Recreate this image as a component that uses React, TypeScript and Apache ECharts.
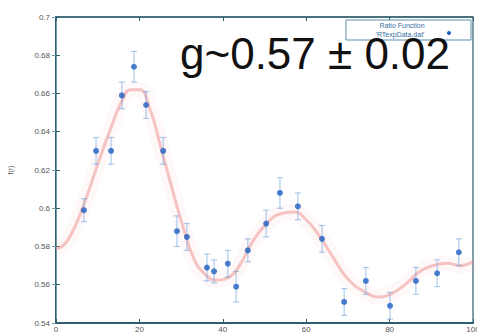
import React, { useEffect, useRef } from "react";
import * as echarts from "echarts";

const xValues = [6.7, 9.6, 13.2, 15.8, 18.7, 21.6, 25.7, 29.0, 31.4, 36.2, 37.9, 41.2, 43.2, 46.0, 50.4, 53.7, 58.0, 63.8, 69.1, 74.3, 80.1, 86.3, 91.4, 96.6];
const yValues = [0.599, 0.630, 0.630, 0.659, 0.674, 0.654, 0.630, 0.588, 0.585, 0.569, 0.567, 0.571, 0.559, 0.578, 0.592, 0.608, 0.601, 0.584, 0.551, 0.562, 0.549, 0.562, 0.566, 0.577];
const yErrors = [0.006, 0.007, 0.007, 0.007, 0.008, 0.007, 0.007, 0.008, 0.007, 0.007, 0.006, 0.007, 0.008, 0.006, 0.007, 0.008, 0.007, 0.007, 0.007, 0.007, 0.007, 0.007, 0.007, 0.007];

const fitX = [0, 2, 4, 6, 8, 10, 13, 16, 18, 20, 22.5, 25, 28, 30.5, 33, 35.5, 38.5, 41.5, 44, 47, 50.5, 53.7, 57, 60, 63.3, 66.4, 70, 74.5, 77.7, 80.8, 84.2, 87.3, 90.4, 93.8, 97, 100];
const fitY = [0.579, 0.581, 0.588, 0.598, 0.61, 0.623, 0.641, 0.657, 0.662, 0.662, 0.652, 0.633, 0.609, 0.59, 0.574, 0.566, 0.5625, 0.564, 0.57, 0.582, 0.592, 0.597, 0.598, 0.594, 0.585, 0.5745, 0.563, 0.5557, 0.5536, 0.5557, 0.561, 0.567, 0.57, 0.5713, 0.57, 0.572];

const xTicks = [0, 20, 40, 60, 80, 100];
const yTicks = [0.54, 0.56, 0.58, 0.6, 0.62, 0.64, 0.66, 0.68, 0.7];

const annotation = "g~0.57 ± 0.02";
const legendLabels = ["Ratio Function", "'RTexpData.dat'"];
const xName = "Distance";
const yName = "f(r)";

export default function App() {
  const ref = useRef<HTMLDivElement>(null);
  useEffect(() => {
    if (!ref.current) return;
    const chart = echarts.init(ref.current, null, { renderer: "svg" });
    const points = xValues.map((x, i) => [x, yValues[i]]);
    const errData = xValues.map((x, i) => [x, yValues[i] - yErrors[i], yValues[i] + yErrors[i]]);
    const fitData = fitX.map((x, i) => [x, fitY[i]]);
    const frame = "#2f5f6e";
    const font = "Liberation Sans, Arial, sans-serif";
    const labelStyle = { color: "#555", fontSize: 8, fontFamily: font };
    chart.setOption({
      animation: false,
      backgroundColor: "#fff",
      grid: {
        left: 56, right: 4, top: 17, bottom: 10, show: true,
        borderColor: frame, borderWidth: 1.2, containLabel: false, outerBoundsMode: "none",
      },
      xAxis: [
        {
          type: "value", min: xTicks[0], max: xTicks[xTicks.length - 1], interval: 20,
          name: xName, nameLocation: "middle", nameGap: 6,
          nameTextStyle: { color: "#3a6ea5", fontSize: 7, fontFamily: font },
          axisLine: { show: true, lineStyle: { color: frame, width: 2 } },
          axisTick: { show: true, inside: true, length: 4, lineStyle: { color: frame } },
          axisLabel: { ...labelStyle, margin: 2 },
          splitLine: { show: false },
        },
        {
          type: "value", position: "top", min: 0, max: 100, interval: 20,
          axisLine: { show: true, lineStyle: { color: frame, width: 1.5 } },
          axisTick: { show: true, inside: true, length: 4, lineStyle: { color: frame } },
          axisLabel: { show: false }, splitLine: { show: false },
        },
      ],
      yAxis: [
        {
          type: "value", min: yTicks[0], max: yTicks[yTicks.length - 1], interval: 0.02,
          name: yName, nameLocation: "middle", nameGap: 42, nameRotate: 90,
          nameTextStyle: { color: "#555", fontSize: 7, fontFamily: font },
          axisLine: { show: true, lineStyle: { color: frame, width: 2 } },
          axisTick: { show: true, inside: true, length: 4, lineStyle: { color: frame } },
          axisLabel: { ...labelStyle, margin: 6 },
          splitLine: { show: false },
        },
        {
          type: "value", position: "right", min: 0.54, max: 0.7, interval: 0.02,
          axisLine: { show: true, lineStyle: { color: "#6f9aa6", width: 1 } },
          axisTick: { show: true, inside: true, length: 4, lineStyle: { color: "#6f9aa6" } },
          axisLabel: { show: false }, splitLine: { show: false },
        },
      ],
      series: [
        {
          type: "line", data: fitData, smooth: true, showSymbol: false, symbol: "none",
          lineStyle: { color: "rgba(240,150,150,0.07)", width: 16 }, z: 1,
        },
        {
          type: "line", data: fitData, smooth: true, showSymbol: false, symbol: "none",
          lineStyle: { color: "rgba(240,140,140,0.5)", width: 3 }, z: 2,
        },
        {
          type: "custom", data: errData, z: 3,
          renderItem: (params: any, api: any) => {
            const x = api.value(0);
            const lo = api.coord([x, api.value(1)]);
            const hi = api.coord([x, api.value(2)]);
            const w = 3;
            const style = { stroke: "rgba(110,160,220,0.55)", lineWidth: 1.2 };
            return {
              type: "group",
              children: [
                { type: "line", shape: { x1: lo[0], y1: lo[1], x2: hi[0], y2: hi[1] }, style },
                { type: "line", shape: { x1: lo[0] - w, y1: lo[1], x2: lo[0] + w, y2: lo[1] }, style },
                { type: "line", shape: { x1: hi[0] - w, y1: hi[1], x2: hi[0] + w, y2: hi[1] }, style },
              ],
            };
          },
        },
        {
          type: "scatter", data: points, symbol: "circle", symbolSize: 6, z: 4,
          itemStyle: { color: "#1f5fbf" },
        },
      ],
      graphic: [
        {
          type: "rect", z: 10, shape: { x: 346, y: 20, width: 125, height: 20 },
          style: { fill: "rgba(255,255,255,0.9)", stroke: "#5b8fa8", lineWidth: 1 },
        },
        {
          type: "text", z: 11, x: 402, y: 25,
          style: { text: legendLabels[0], fontSize: 7, fill: "#3a6ea5", align: "center", verticalAlign: "middle", fontFamily: font },
        },
        {
          type: "text", z: 11, x: 400, y: 34,
          style: { text: legendLabels[1], fontSize: 7, fill: "#3a6ea5", align: "center", verticalAlign: "middle", fontFamily: font },
        },
        {
          type: "circle", z: 11, shape: { cx: 449, cy: 33, r: 2 }, style: { fill: "#1f5fbf" },
        },
        {
          type: "text", z: 20, x: 180, y: 53,
          style: { text: annotation, fontSize: 44, fill: "#111", align: "left", verticalAlign: "middle", fontFamily: font },
        },
      ],
    });
    return () => chart.dispose();
  }, []);
  return <div ref={ref} style={{ position: "fixed", left: 0, top: 0, width: 477, height: 333 }} />;
}
